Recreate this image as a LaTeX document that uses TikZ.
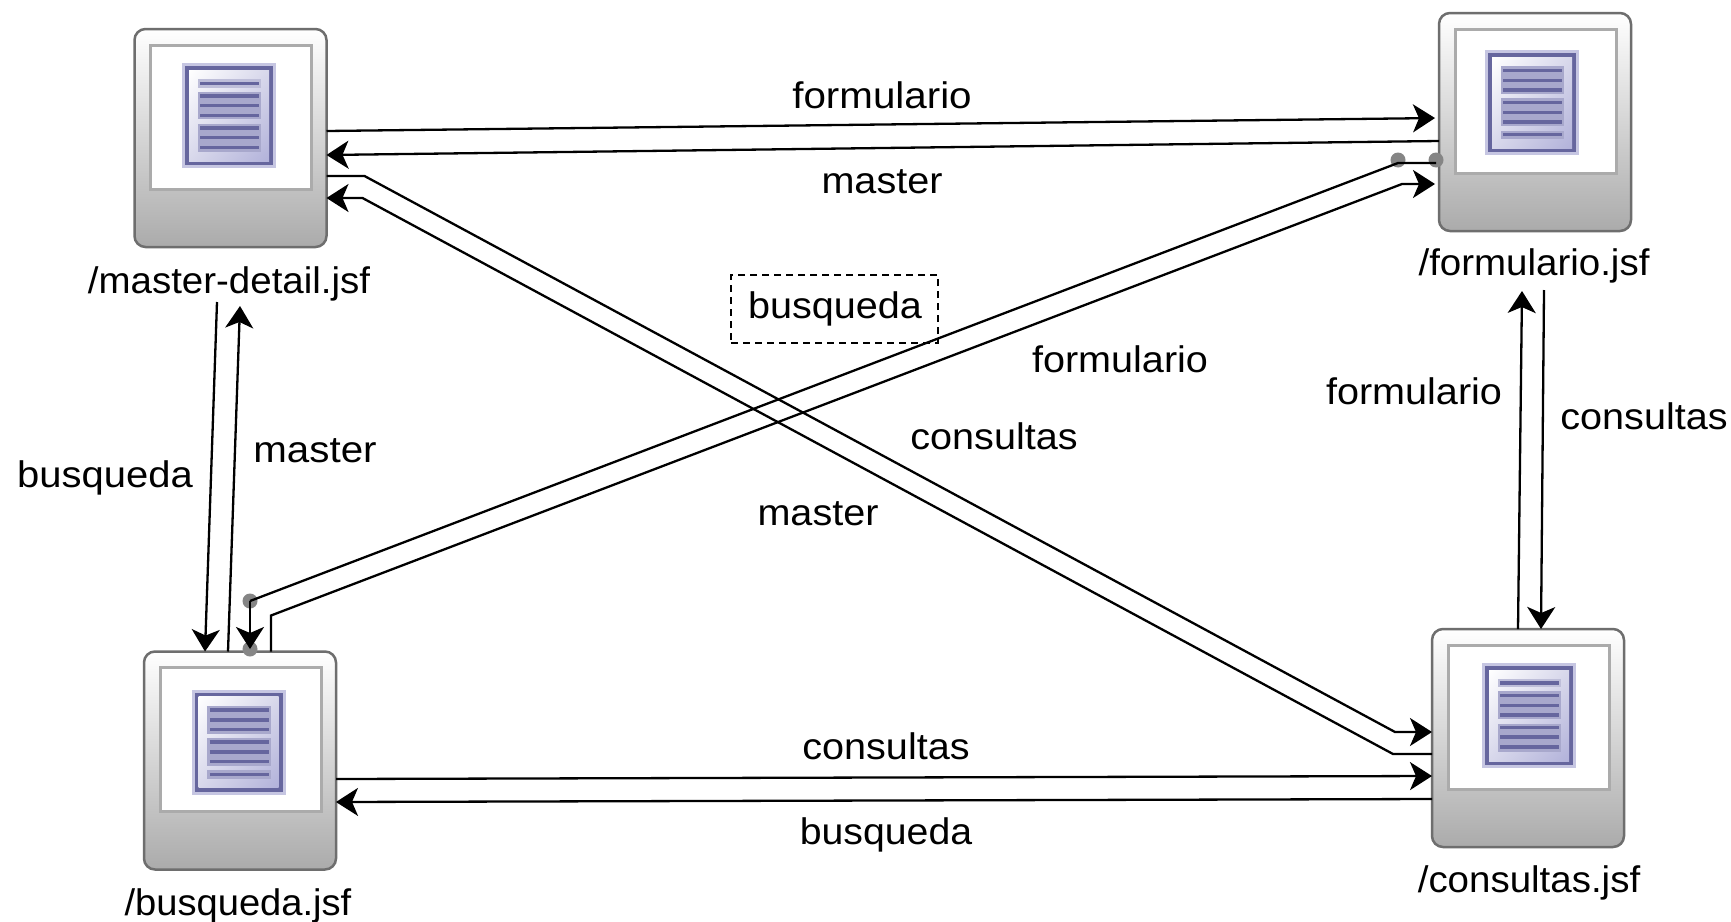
\documentclass[tikz,border=0pt]{standalone}
\usepackage{fontspec}
\setmainfont{Liberation Sans}
\usepackage{graphicx}
\usetikzlibrary{arrows.meta,shadings}
\definecolor{icondark}{HTML}{66669E}
\definecolor{iconhalo}{HTML}{C6C6E2}
\definecolor{iconmid}{HTML}{B2B2DA}
\definecolor{iconblock}{HTML}{A8A8CC}
\definecolor{boxedge}{HTML}{6E6E6E}
\definecolor{boxframe}{HTML}{ABABAB}
\definecolor{dotgray}{HTML}{858585}
\tikzset{
  x=1pt, y=-1pt,
  pagebox/.style={draw=boxedge, line width=2.5pt, rounded corners=11pt, top color=white, bottom color=black!33, minimum width=192pt, minimum height=218pt, inner sep=0pt, outer sep=0pt},
  link/.style={draw=black, line width=2.3pt, line join=miter},
  tip/.style={-{Stealth[length=22pt,width=28pt,inset=6pt]}},
  txt/.style={inner sep=0pt, outer sep=0pt, anchor=base, font=\fontsize{37}{40}\selectfont},
  graydot/.style={circle, fill=dotgray, minimum size=15pt, inner sep=0pt, outer sep=0pt},
  dashbox/.style={draw=black, line width=2pt, dash pattern=on 7pt off 5pt, minimum width=207pt, minimum height=68pt, inner sep=0pt, outer sep=0pt}
}
% frame and icon of a page box: #1 box name, #2,#3 icon offset, #4 variant
\newcommand{\pageface}[4]{%
  \begin{scope}[shift={(#1.north west)}]
    \fill[white] (16,16) rectangle (177,160);
    \draw[boxframe, line width=3pt] (16,16) rectangle (177,160);
    \begin{scope}[shift={(#2,#3)}]
      \fill[iconhalo] (0,0) rectangle (94,105);
      \fill[icondark] (3,3) rectangle (91,102);
      \shade[upper left=white, upper right=iconhalo!70, lower left=iconhalo!70, lower right=iconmid] (7,7) rectangle (87,98);
      \ifnum#4=1
        \fill[iconblock!75] (15.6,15.7) rectangle (79,24.4);
        \fill[iconblock] (15.6,28.4) rectangle (79,55.7);
        \fill[iconblock] (15.6,60.7) rectangle (79,88.7);
        \foreach \ly in {20,32.7,42.4,52,64.7,74,84}
          \draw[icondark, line width=3.4pt] (18,\ly) -- (77,\ly);
      \else
        \fill[iconblock] (15.6,16) rectangle (79,44.3);
        \fill[iconblock] (15.6,48.3) rectangle (79,76);
        \fill[iconblock] (15.6,80.7) rectangle (79,89);
        \foreach \ly in {20.3,30.3,40,52.3,62.3,72,84.7}
          \draw[icondark, line width=3.4pt] (18,\ly) -- (77,\ly);
      \fi
    \end{scope}
  \end{scope}}
\newcommand{\lbl}[5]{\node[txt] (#1) at (#2,#3) {\scalebox{#4}[1]{#5}};}
\begin{document}
\begin{tikzpicture}
\useasboundingbox (0,0) rectangle (1731,921);
\fill[white] (0,0) rectangle (1731,921);

\node[pagebox] (master) at (230.5,138) {};
\node[pagebox] (form) at (1535,122) {};
\node[pagebox] (busq) at (240,760.5) {};
\node[pagebox] (cons) at (1528,738) {};
\pageface{master}{47.7}{34.3}{1}
\pageface{form}{46}{37}{2}
\pageface{busq}{47.7}{38}{2}
\pageface{cons}{50}{34}{1}

\lbl{lmaster}{229}{293}{1.04}{/master-detail.jsf}
\lbl{lform}{1534}{275}{1.04}{/formulario.jsf}
\lbl{lbusq}{238}{915}{1.03}{/busqueda.jsf}
\lbl{lcons}{1529}{892}{1.04}{/consultas.jsf}

\lbl{t1}{882}{108}{1.09}{formulario}
\lbl{t2}{882}{193}{1.07}{master}
\lbl{t3}{835}{318}{1.07}{busqueda}
\node[dashbox] (dash) at (834.5,309) {};
\lbl{t4}{1120}{372}{1.07}{formulario}
\lbl{t5}{994}{449}{1.07}{consultas}
\lbl{t6}{818}{525}{1.07}{master}
\lbl{t7}{105}{487}{1.08}{busqueda}
\lbl{t8}{315}{462}{1.09}{master}
\lbl{t9}{1414}{404}{1.07}{formulario}
\lbl{t10}{1644}{429}{1.07}{consultas}
\lbl{t11}{886}{759}{1.07}{consultas}
\lbl{t12}{886}{844}{1.06}{busqueda}

\coordinate (mfree) at (217,302);
\coordinate (mtip) at (240,306);
\coordinate (ftip) at (1522,291);
\coordinate (ffree) at (1544,290);

% top pair
\draw[link,tip,shorten >=4pt] ([yshift=7pt]master.east) -- ([yshift=4pt]form.west);
\draw[link,tip] ([yshift=-19pt]form.west) -- ([yshift=-17pt]master.east);
% bottom pair
\draw[link,tip] ([yshift=-18.5pt]busq.east) -- ([yshift=-38pt]cons.west);
\draw[link,tip] ([yshift=-61pt]cons.west) -- ([yshift=-41.5pt]busq.east);
% left pair
\draw[link,tip] (mfree) -- ([xshift=-35pt]busq.north);
\draw[link,tip] ([xshift=-12pt]busq.north) -- (mtip);
% right pair
\draw[link,tip] ([xshift=-10pt]cons.north) -- (ftip);
\draw[link,tip] (ffree) -- ([xshift=13pt]cons.north);
% long diagonals
\draw[link,tip] ([yshift=-38pt]master.east) -- ([xshift=38pt,yshift=-38pt]master.east) -- ([xshift=-37pt,yshift=6pt]cons.west) -- ([yshift=6pt]cons.west);
\draw[link,tip] ([yshift=-16pt]cons.west) -- ([xshift=-39pt,yshift=-16pt]cons.west) -- ([xshift=36pt,yshift=-60pt]master.east) -- ([yshift=-60pt]master.east);
\draw[link,tip,shorten >=4pt] ([xshift=31pt]busq.north) -- ([xshift=31pt,yshift=36pt]busq.north) -- ([xshift=-37pt,yshift=-62pt]form.west) -- ([yshift=-62pt]form.west);
% dotted route
\node[graydot] (d1) at (1436,160) {};
\node[graydot] (d2) at (1398,160) {};
\node[graydot] (d3) at (250,601) {};
\node[graydot] (d4) at (250,649) {};
\draw[link] ([yshift=-3pt]d1.center) -- ([yshift=-3pt]d2.center) -- (d3.center);
\draw[link,tip] (d3.center) -- (d4.center);
\end{tikzpicture}
\end{document}
